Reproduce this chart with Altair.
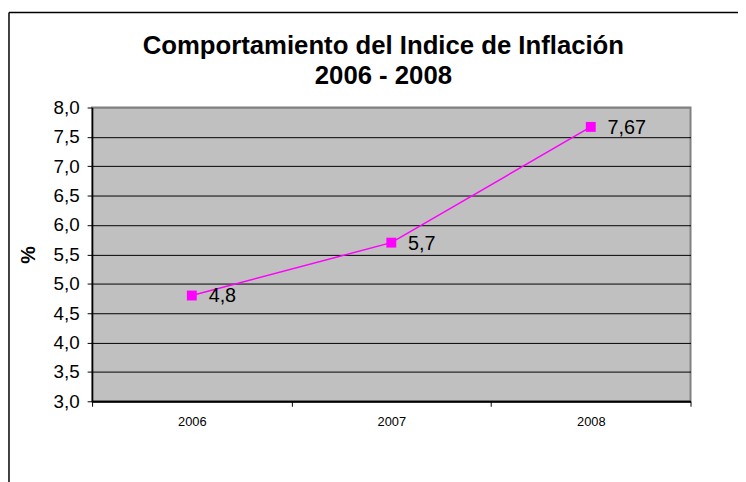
import altair as alt
import pandas as pd

years = ["2006", "2007", "2008"]
values = [4.8, 5.7, 7.67]
labels = ["4,8", "5,7", "7,67"]
y_ticks = [3.0, 3.5, 4.0, 4.5, 5.0, 5.5, 6.0, 6.5, 7.0, 7.5, 8.0]

df = pd.DataFrame({"year": years, "value": values, "label": labels})

FONT = "Liberation Sans"
W, H = 605, 297

x_enc = alt.X(
    "year:N",
    sort=years,
    scale=alt.Scale(paddingInner=0, paddingOuter=0),
    axis=alt.Axis(
        title=None,
        labelAngle=0,
        labelFont=FONT,
        labelFontSize=13,
        labelColor="#000000",
        labelPadding=9,
        tickBand="extent",
        tickSize=5,
        tickColor="#000000",
        domainColor="#000000",
        domainWidth=2,
        grid=False,
    ),
)

y_enc = alt.Y(
    "value:Q",
    scale=alt.Scale(domain=[3, 8], nice=False, zero=False),
    axis=alt.Axis(
        values=y_ticks,
        tickCount=11,
        labelOverlap=False,
        title="%",
        titleFont=FONT,
        titleFontSize=20,
        titleFontWeight="bold",
        titleColor="#000000",
        titleAngle=-90,
        titleX=-64,
        titleY=H / 2,
        titleAlign="center",
        titleBaseline="middle",
        labelFont=FONT,
        labelFontSize=19,
        labelColor="#000000",
        labelPadding=8,
        labelExpr="replace(format(datum.value, '.1f'), '.', ',')",
        tickSize=5,
        tickColor="#000000",
        domainColor="#000000",
        domainWidth=1.5,
        grid=True,
        gridColor=alt.condition("datum.value == 8", alt.value("#808080"), alt.value("#000000")),
        gridWidth=1,
    ),
)

base = alt.Chart(df)

line = base.mark_line(color="#ff00ff", strokeWidth=1.5).encode(x=x_enc, y=y_enc)
pts = base.mark_point(shape="square", filled=True, size=100, color="#ff00ff", opacity=1).encode(
    x=x_enc, y=y_enc
)
txt = base.mark_text(
    align="left", baseline="middle", dx=17, dy=1, font=FONT, fontSize=20, color="#000000"
).encode(x=x_enc, y=y_enc, text="label:N")

frame_data = alt.Data(values=[{}])
top_rule = alt.Chart(frame_data).mark_rule(color="#000000", strokeWidth=1.5).encode(
    x=alt.value(-84), x2=alt.value(700), y=alt.value(-96)
)
left_rule = alt.Chart(frame_data).mark_rule(color="#000000", strokeWidth=1.5).encode(
    x=alt.value(-84), y=alt.value(-96), y2=alt.value(400)
)

chart = (
    alt.layer(line, pts, txt, top_rule, left_rule)
    .properties(
        width=W,
        height=H,
        autosize=alt.AutoSizeParams(type="none"),
        padding={"left": 85, "top": 98, "right": 48, "bottom": 79},
        title=alt.TitleParams(
            text=["Comportamiento del Indice de Inflación", "2006 - 2008"],
            font=FONT,
            fontSize=26,
            fontWeight="bold",
            color="#000000",
            anchor="middle",
            dx=-8,
            offset=-78,
            lineHeight=30,
        ),
    )
    .configure(background="#ffffff")
    .configure_view(fill="#c0c0c0", stroke="#808080", strokeWidth=2)
)

chart.save("out.html", embed_options={"renderer": "svg", "actions": False})
